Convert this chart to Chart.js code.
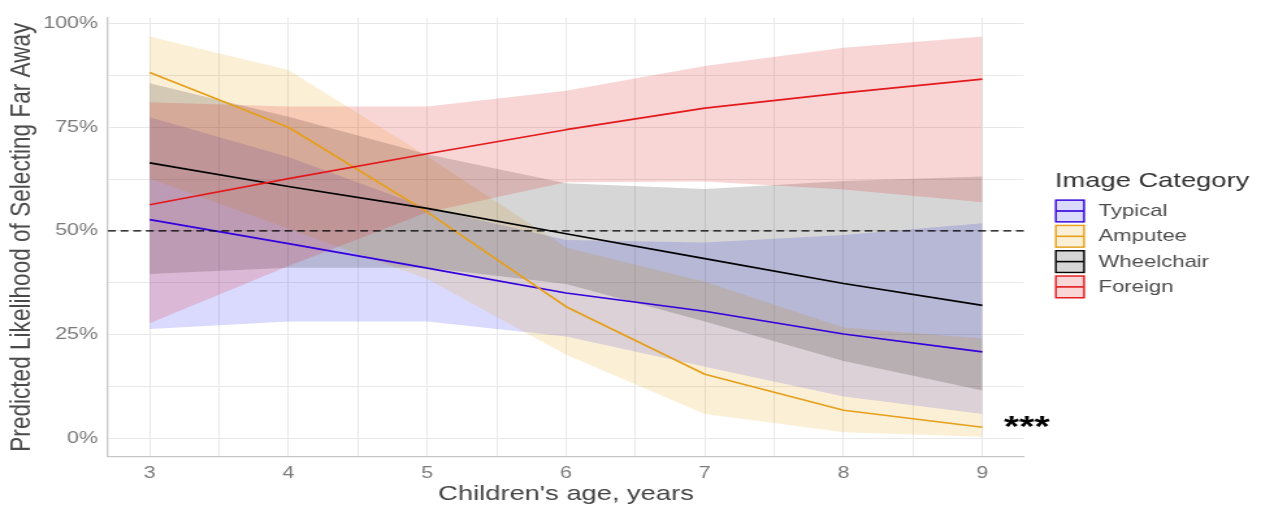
<!DOCTYPE html>
<html>
<head>
<meta charset="utf-8">
<title>Predicted likelihood of selecting far away by age</title>
<script src="https://cdn.jsdelivr.net/npm/chart.js@4.4.1/dist/chart.umd.min.js"></script>
<style>
  html, body { margin: 0; padding: 0; background: #ffffff; overflow: hidden; }
  #wrap { width: 1261px; height: 508px; overflow: hidden; }
  /* the figure is laid out at 970px and widened to the full 1261px page */
  #c { display: block; transform: scaleX(1.3); transform-origin: 0 0; }
</style>
</head>
<body>
<div id="wrap"><canvas id="c" width="970" height="508"></canvas></div>
<script>
// ---- data -----------------------------------------------------------------
const ages = [3, 4, 5, 6, 7, 8, 9];
const categories = ['Typical', 'Amputee', 'Wheelchair', 'Foreign'];

// predicted probability and its confidence band, per image category
const typicalFit     = [0.527, 0.469, 0.410, 0.350, 0.306, 0.251, 0.208];
const typicalLow     = [0.263, 0.281, 0.281, 0.245, 0.172, 0.100, 0.058];
const typicalHigh    = [0.774, 0.678, 0.555, 0.478, 0.472, 0.490, 0.518];

const amputeeFit     = [0.882, 0.750, 0.545, 0.317, 0.154, 0.067, 0.026];
const amputeeLow     = [0.626, 0.505, 0.384, 0.201, 0.058, 0.014, 0.003];
const amputeeHigh    = [0.969, 0.888, 0.680, 0.460, 0.377, 0.267, 0.240];

const wheelchairFit  = [0.664, 0.607, 0.554, 0.493, 0.433, 0.373, 0.320];
const wheelchairLow  = [0.396, 0.411, 0.411, 0.372, 0.281, 0.186, 0.115];
const wheelchairHigh = [0.856, 0.775, 0.685, 0.615, 0.601, 0.620, 0.631];

const foreignFit     = [0.563, 0.626, 0.686, 0.744, 0.796, 0.833, 0.866];
const foreignLow     = [0.277, 0.415, 0.545, 0.617, 0.619, 0.600, 0.569];
const foreignHigh    = [0.810, 0.800, 0.800, 0.838, 0.898, 0.942, 0.969];

// axis ticks (half steps carry the minor grid lines)
const xTickValues = [3, 3.5, 4, 4.5, 5, 5.5, 6, 6.5, 7, 7.5, 8, 8.5, 9];
const xTickLabels = ['3', '4', '5', '6', '7', '8', '9'];
const yTickValues = [0, 0.125, 0.25, 0.375, 0.5, 0.625, 0.75, 0.875, 1];
const yLabelledValues = [0, 0.25, 0.5, 0.75, 1];
const yTickLabels = ['0%', '25%', '50%', '75%', '100%'];

const chanceLevel = 0.5;        // dashed reference line
const significanceMark = '***'; // trend marker beside the last age

// ---- styling --------------------------------------------------------------
const W = 970, H = 508;
const AREA = { left: 83.1, right: 787.7, top: 13.3, bottom: 456.7 };
const FONT = '"Liberation Sans", Arial, Helvetica, sans-serif';

const style = {
  Typical:    { line: '#3300dd', fill: 'rgba(51, 51, 255, 0.18)',  fillKey: '#dadaff', order: 4 },
  Amputee:    { line: '#e69f1a', fill: 'rgba(230, 159, 0, 0.16)',  fillKey: '#fbf0d6', order: 3 },
  Wheelchair: { line: '#000000', fill: 'rgba(0, 0, 0, 0.16)',      fillKey: '#d6d6d6', order: 2 },
  Foreign:    { line: '#e31a1c', fill: 'rgba(220, 30, 30, 0.18)',  fillKey: '#f9d7d7', order: 1 }
};

const series = {
  Typical:    { fit: typicalFit,    low: typicalLow,    high: typicalHigh },
  Amputee:    { fit: amputeeFit,    low: amputeeLow,    high: amputeeHigh },
  Wheelchair: { fit: wheelchairFit, low: wheelchairLow, high: wheelchairHigh },
  Foreign:    { fit: foreignFit,    low: foreignLow,    high: foreignHigh }
};

const pts = arr => ages.map((a, i) => ({ x: a, y: arr[i] }));

// bands first (upper edge filled down to the following lower edge), then lines
const datasets = [];
categories.forEach(cat => {
  const s = series[cat], st = style[cat];
  datasets.push({
    label: cat + ' upper', data: pts(s.high), borderWidth: 0, pointRadius: 0,
    fill: '+1', backgroundColor: st.fill, order: 10 + st.order
  });
  datasets.push({
    label: cat + ' lower', data: pts(s.low), borderWidth: 0, pointRadius: 0,
    fill: false, order: 10 + st.order
  });
});
categories.forEach(cat => {
  const st = style[cat];
  datasets.push({
    label: cat, data: pts(series[cat].fit), borderColor: st.line, borderWidth: 1.7,
    pointRadius: 0, fill: false, order: st.order, borderJoinStyle: 'round'
  });
});

// ---- plugins --------------------------------------------------------------
const referenceLine = {
  id: 'referenceLine',
  afterDatasetsDraw(chart) {
    const { ctx, chartArea, scales } = chart;
    const y = scales.y.getPixelForValue(chanceLevel);
    ctx.save();
    ctx.strokeStyle = '#000000';
    ctx.lineWidth = 1.2;
    ctx.setLineDash([6, 3.7]);
    ctx.beginPath();
    ctx.moveTo(chartArea.left, y);
    ctx.lineTo(chartArea.right, y);
    ctx.stroke();
    ctx.restore();
  }
};

const significanceLabel = {
  id: 'significanceLabel',
  afterDraw(chart) {
    const { ctx, scales } = chart;
    const x = scales.x.getPixelForValue(9.32);
    const y = scales.y.getPixelForValue(0) - 2;
    ctx.save();
    ctx.fillStyle = '#000000';
    ctx.font = 'bold 30px ' + FONT;
    ctx.textAlign = 'center';
    ctx.textBaseline = 'alphabetic';
    ctx.fillText(significanceMark, x, y);
    ctx.restore();
  }
};

const categoryLegend = {
  id: 'categoryLegend',
  afterDraw(chart) {
    const ctx = chart.ctx;
    const left = 811.5, box = 23.1, step = 25.3, firstCenter = 211;
    ctx.save();
    ctx.fillStyle = '#333333';
    ctx.font = '21px ' + FONT;
    ctx.textAlign = 'left';
    ctx.textBaseline = 'middle';
    ctx.fillText('Image Category', left, 181);
    ctx.font = '17px ' + FONT;
    categories.forEach((cat, i) => {
      const st = style[cat];
      const cy = firstCenter + i * step;
      ctx.fillStyle = st.fillKey;
      ctx.fillRect(left, cy - box / 2, box, box);
      ctx.strokeStyle = st.line;
      ctx.lineWidth = 1.4;
      ctx.strokeRect(left + 0.7, cy - box / 2 + 0.7, box - 1.4, box - 1.4);
      ctx.lineWidth = 1.6;
      ctx.beginPath();
      ctx.moveTo(left + 1, cy);
      ctx.lineTo(left + box - 1, cy);
      ctx.stroke();
      ctx.fillStyle = '#4d4d4d';
      ctx.fillText(cat, 845, cy + 0.5);
    });
    ctx.restore();
  }
};

// ---- chart ----------------------------------------------------------------
const gridColor = '#e8e8e8';

new Chart(document.getElementById('c'), {
  type: 'line',
  data: { datasets },
  options: {
    responsive: false,
    animation: false,
    devicePixelRatio: 1,
    layout: { padding: { top: AREA.top, right: W - AREA.right, left: 0, bottom: 0 } },
    elements: { line: { tension: 0 }, point: { radius: 0 } },
    plugins: {
      legend: { display: false },
      tooltip: { enabled: false },
      filler: { drawTime: 'beforeDatasetsDraw', propagate: false }
    },
    scales: {
      x: {
        type: 'linear',
        min: 2.7,
        max: 9.3,
        afterBuildTicks: s => { s.ticks = xTickValues.map(v => ({ value: v })); },
        afterFit: s => { s.height = H - AREA.bottom; },
        grid: { color: gridColor, lineWidth: 1, drawTicks: false, tickLength: 0 },
        border: { display: true, color: '#c6c6c6', width: 1.3 },
        ticks: {
          autoSkip: false, maxRotation: 0, padding: 7, color: '#7a7a7a',
          font: { family: FONT, size: 16.5 },
          callback: v => (Number.isInteger(v) ? xTickLabels[ages.indexOf(v)] : '')
        },
        title: {
          display: true, text: "Children's age, years", color: '#444444',
          font: { family: FONT, size: 21 }, padding: { top: 0, bottom: 1.2 }
        }
      },
      y: {
        type: 'linear',
        min: -0.045,
        max: 1.0145,
        afterBuildTicks: s => { s.ticks = yTickValues.map(v => ({ value: v })); },
        afterFit: s => { s.width = AREA.left; },
        grid: { color: gridColor, lineWidth: 1, drawTicks: false, tickLength: 0 },
        border: { display: true, color: '#c6c6c6', width: 1.3 },
        ticks: {
          autoSkip: false, padding: 7.7, color: '#7a7a7a',
          font: { family: FONT, size: 16.5 },
          callback: v => {
            const i = yLabelledValues.indexOf(v);
            return i >= 0 ? yTickLabels[i] : '';
          }
        },
        title: {
          display: true, text: 'Predicted Likelihood of Selecting Far Away', color: '#4a4a4a',
          font: { family: FONT, size: 22.6 }, padding: { top: 3.4, bottom: 0 }
        }
      }
    }
  },
  plugins: [referenceLine, significanceLabel, categoryLegend]
});
</script>
</body>
</html>
